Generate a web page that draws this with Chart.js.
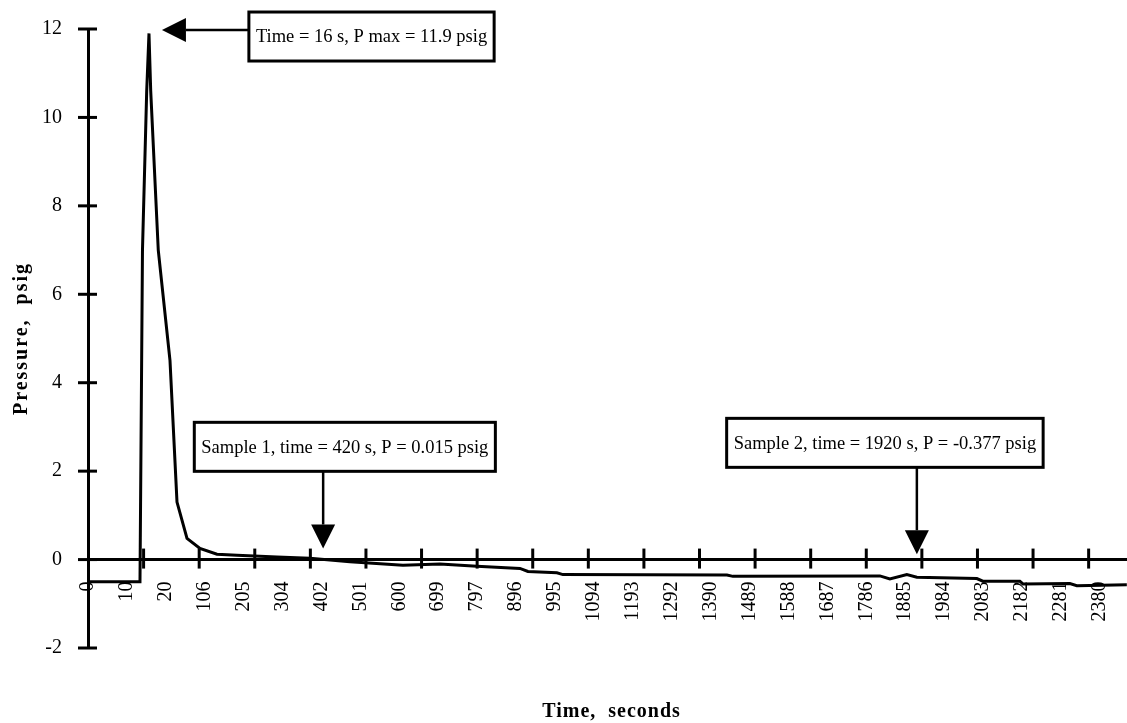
<!DOCTYPE html>
<html>
<head>
<meta charset="utf-8">
<title>Pressure vs time</title>
<script src="https://cdn.jsdelivr.net/npm/chart.js@4.4.1/dist/chart.umd.min.js"></script>
<style>
  html, body { margin: 0; padding: 0; background: #fff; }
  canvas { display: block; }
</style>
</head>
<body>
<canvas id="pressureChart" width="1127" height="723"></canvas>
<script>
// sample number along the time axis (the axis is not linear in seconds)
const sampleNo = [0, 9.35, 9.8, 10.56, 10.97, 11.28, 12.64, 14.75, 16.01, 17.81,
    20.14, 23.2, 26.8, 33.99, 39.93, 47.12, 56.65, 63.31, 69.96, 77.7,
    79.14, 84.35, 85.43, 114.93, 116.01, 142.45, 144.24, 147.3, 149.1, 159.89,
    160.97, 167.63, 168.17, 176.62, 177.88, 186.87];
// pressure, psig
const pressure = [-0.5, -0.5, 7.0, 10.6, 11.9, 10.6, 7.0, 4.5, 1.3, 0.48,
    0.25, 0.12, 0.1, 0.06, 0.03, -0.05, -0.13, -0.1, -0.15, -0.2,
    -0.27, -0.3, -0.34, -0.35, -0.38, -0.37, -0.44, -0.34, -0.4, -0.43,
    -0.49, -0.49, -0.55, -0.54, -0.59, -0.57];

// time labels, one every 7 samples
const xLabelAt = [0, 7, 14, 21, 28, 35, 42, 49, 56, 63, 70, 77, 84, 91, 98,
    105, 112, 119, 126, 133, 140, 147, 154, 161, 168, 175, 182];
const xTickLabels = ['0', '10', '20', '106', '205', '304', '402', '501', '600', '699',
    '797', '896', '995', '1094', '1193', '1292', '1390', '1489', '1588', '1687',
    '1786', '1885', '1984', '2083', '2182', '2281', '2380'];
// tick marks on the time axis, every 10 samples
const xMarkAt = [10, 20, 30, 40, 50, 60, 70, 80, 90, 100, 110, 120, 130, 140, 150, 160, 170, 180];

const notes = [
    { text: 'Time = 16 s, P max = 11.9 psig', at: [51.0, 11.83], tip: [13.3, 11.98], from: [29.4, 11.98] },
    { text: 'Sample 1, time = 420 s, P = 0.015 psig', at: [46.2, 2.55], tip: [42.3, 0.25] },
    { text: 'Sample 2, time = 1920 s, P = -0.377 psig', at: [143.35, 2.64], tip: [149.1, 0.12] },
];

const SERIF = '"Liberation Serif", "Times New Roman", serif';

function drawArrow(ctx, x1, y1, x2, y2) {
    const len = 24, half = 12;
    const a = Math.atan2(y2 - y1, x2 - x1);
    const bx = x2 - len * Math.cos(a), by = y2 - len * Math.sin(a);
    ctx.beginPath();
    ctx.moveTo(x1, y1);
    ctx.lineTo(bx, by);
    ctx.stroke();
    ctx.beginPath();
    ctx.moveTo(x2, y2);
    ctx.lineTo(bx + half * Math.sin(a), by - half * Math.cos(a));
    ctx.lineTo(bx - half * Math.sin(a), by + half * Math.cos(a));
    ctx.closePath();
    ctx.fill();
}

const extras = {
    id: 'extras',
    afterDraw(chart) {
        const { ctx, chartArea, scales: { x, y } } = chart;
        const y0 = y.getPixelForValue(0);
        ctx.save();
        ctx.strokeStyle = '#000';
        ctx.fillStyle = '#000';
        ctx.lineWidth = 3;

        // crossing tick marks
        xMarkAt.forEach(v => {
            const px = x.getPixelForValue(v);
            ctx.beginPath();
            ctx.moveTo(px, y0 - 11);
            ctx.lineTo(px, y0 + 9);
            ctx.stroke();
        });
        y.ticks.forEach(t => {
            const py = y.getPixelForValue(t.value);
            ctx.beginPath();
            ctx.moveTo(chartArea.left - 10, py);
            ctx.lineTo(chartArea.left + 9, py);
            ctx.stroke();
        });

        // call-out boxes with arrows
        ctx.font = '18.5px ' + SERIF;
        notes.forEach(n => {
            const cx = x.getPixelForValue(n.at[0]);
            const cy = y.getPixelForValue(n.at[1]);
            const w = ctx.measureText(n.text).width + 14;
            const h = 49;
            const tx = x.getPixelForValue(n.tip[0]);
            const ty = y.getPixelForValue(n.tip[1]);
            ctx.lineWidth = 2.5;
            if (n.from) {
                drawArrow(ctx, x.getPixelForValue(n.from[0]), y.getPixelForValue(n.from[1]), tx, ty);
            } else {
                drawArrow(ctx, tx, cy + h / 2, tx, ty);
            }
            ctx.fillStyle = '#fff';
            ctx.fillRect(cx - w / 2, cy - h / 2, w, h);
            ctx.lineWidth = 3;
            ctx.strokeRect(cx - w / 2, cy - h / 2, w, h);
            ctx.fillStyle = '#000';
            ctx.textAlign = 'center';
            ctx.textBaseline = 'middle';
            ctx.fillText(n.text, cx, cy + 1);
        });

        // axis titles
        ctx.font = 'bold 20px ' + SERIF;
        ctx.textAlign = 'center';
        ctx.textBaseline = 'alphabetic';
        ctx.letterSpacing = '1px';
        ctx.fillText('Time,  seconds', (chartArea.left + chartArea.right) / 2 + 4, 717);
        ctx.translate(27, (chartArea.top + chartArea.bottom) / 2);
        ctx.rotate(-Math.PI / 2);
        ctx.letterSpacing = '2px';
        ctx.fillText('Pressure,  psig', 0, 0);
        ctx.restore();
    }
};

const tickFont = { family: SERIF, size: 20 };

new Chart(document.getElementById('pressureChart').getContext('2d'), {
    type: 'line',
    data: {
        datasets: [{
            label: 'Pressure',
            data: sampleNo.map((s, i) => ({ x: s, y: pressure[i] })),
            borderColor: '#000',
            borderWidth: 3,
            pointRadius: 0,
            tension: 0,
            fill: false,
        }],
    },
    options: {
        responsive: false,
        animation: false,
        devicePixelRatio: 1,
        layout: { padding: { top: 29, right: 0, bottom: 75, left: 0 } },
        plugins: { legend: { display: false }, tooltip: { enabled: false } },
        scales: {
            x: {
                type: 'linear',
                position: { y: 0 },
                min: 0,
                max: 186.9,
                afterBuildTicks: (s) => { s.ticks = xLabelAt.map(v => ({ value: v })); },
                afterFit: (s) => { s.paddingLeft = 0; s.paddingRight = 0; },
                grid: { display: true, drawOnChartArea: false, drawTicks: false },
                border: { color: '#000', width: 3 },
                ticks: {
                    autoSkip: false, minRotation: 90, maxRotation: 90, padding: 22,
                    color: '#000', font: tickFont,
                    callback: (v, i) => xTickLabels[i],
                },
            },
            y: {
                min: -2,
                max: 12,
                afterFit: (s) => { s.width = 88; s.paddingTop = 0; s.paddingBottom = 0; },
                grid: { display: true, drawOnChartArea: false, drawTicks: false },
                border: { color: '#000', width: 3 },
                ticks: { stepSize: 2, padding: 26, color: '#000', font: tickFont },
            },
        },
    },
    plugins: [extras],
});
</script>
</body>
</html>
